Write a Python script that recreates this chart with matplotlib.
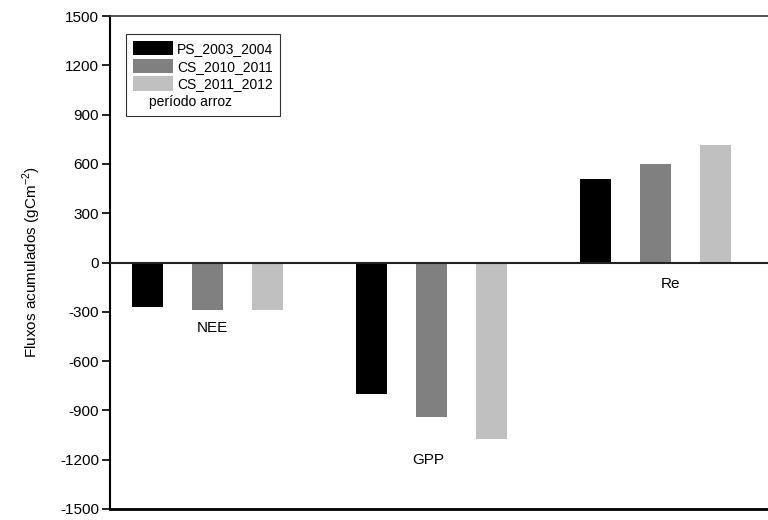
import numpy as np
import matplotlib
matplotlib.use("Agg")
import matplotlib.pyplot as plt
from matplotlib.patches import Patch

plt.rcParams['font.family'] = ['Liberation Sans', 'DejaVu Sans']
plt.rcParams['mathtext.fontset'] = 'custom'
plt.rcParams['mathtext.rm'] = 'Liberation Sans'

groups = ["NEE", "GPP", "Re"]
series = ["PS_2003_2004", "CS_2010_2011", "CS_2011_2012"]
ps_2003_2004 = [-272, -800, 508]
cs_2010_2011 = [-289, -940, 598]
cs_2011_2012 = [-287, -1074, 715]
colors = ["#000000", "#808080", "#c0c0c0"]
yticks = [-1500, -1200, -900, -600, -300, 0, 300, 600, 900, 1200, 1500]

fig = plt.figure(figsize=(7.68, 5.2), dpi=100)
ax = fig.add_axes([110 / 768, 11 / 520, 658 / 768, 493 / 520])

group_step = 3.733
first_center = 1.625
width = 0.52
centers = first_center + group_step * np.arange(len(groups))

for j, (vals, c) in enumerate(zip([ps_2003_2004, cs_2010_2011, cs_2011_2012], colors)):
    ax.bar(centers + (j - 1), vals, width=width, color=c, edgecolor="none")

ax.axhline(0, color="#222222", lw=1.5, zorder=3)

# group labels
ax.text(centers[0] + 0.08, -400, "NEE", ha="center", va="center", fontsize=11)
ax.text(centers[1] - 0.05, -1200, "GPP", ha="center", va="center", fontsize=11)
ax.text(centers[2] + 0.25, -130, "Re", ha="center", va="center", fontsize=11)

ax.set_xlim(0, 658 / 60)
ax.set_ylim(-1500, 1500)
ax.set_yticks(yticks)
ax.set_yticklabels([str(t) for t in yticks], fontsize=11)
ax.set_xticks([])
ax.tick_params(axis="y", direction="out", length=6, width=1.2, pad=2)

ax.spines["right"].set_visible(False)
ax.spines["left"].set_linewidth(1.5)
ax.spines["bottom"].set_linewidth(2)
ax.spines["top"].set_linewidth(1.2)
ax.spines["top"].set_color("#333333")

ax.set_ylabel("Fluxos acumulados (gCm$^{\\mathregular{-2}}$)", fontsize=11, labelpad=12)

handles = [Patch(facecolor=c, edgecolor="none") for c in colors]
handles.append(Patch(facecolor="white", edgecolor="none"))
labels = series + ["período arroz"]
leg = ax.legend(handles, labels, loc="upper left", bbox_to_anchor=(0.024, 0.963),
                fontsize=10, frameon=True, fancybox=False, edgecolor="black",
                handlelength=2.9, handleheight=1.2, handletextpad=0.3,
                labelspacing=0.2, borderpad=0.5, borderaxespad=0)
leg.get_frame().set_linewidth(0.8)
leg.get_texts()[3].set_position((-28, 0))

fig.savefig("out.png", dpi=100)
